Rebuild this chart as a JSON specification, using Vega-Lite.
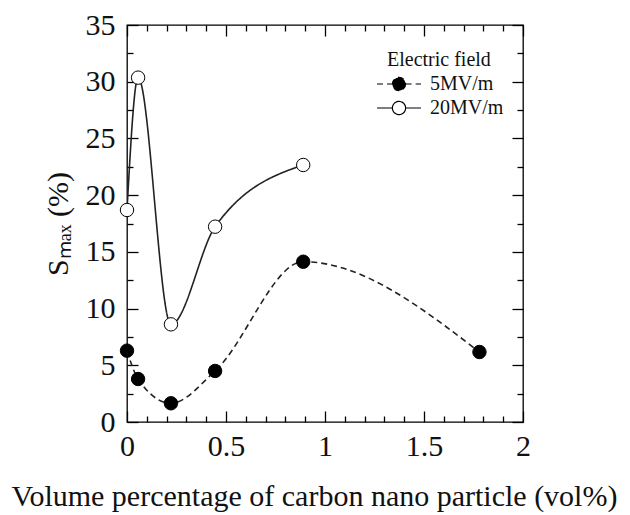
{
  "$schema": "https://vega.github.io/schema/vega-lite/v6.json",
  "width": 396,
  "height": 397,
  "autosize": {"type": "none"},
  "padding": {"left": 127, "top": 25, "right": 107, "bottom": 93},
  "background": "white",
  "config": {
    "font": "Liberation Serif",
    "view": {"stroke": "black", "strokeWidth": 1.3},
    "axis": {
      "domain": false,
      "grid": false,
      "tickColor": "black",
      "tickWidth": 1.3,
      "labelFont": "Liberation Serif",
      "labelFontSize": 30,
      "labelColor": "#111",
      "labelFlush": false,
      "titleFont": "Liberation Serif",
      "titleFontSize": 30,
      "titleFontWeight": "normal",
      "titleColor": "#111"
    },
    "legend": {"labelFont": "Liberation Serif", "titleFont": "Liberation Serif"}
  },
  "data": {
    "values": [
      {"vol": 0, "S": 6.29, "field": "5MV/m"},
      {"vol": 0.056, "S": 3.79, "field": "5MV/m"},
      {"vol": 0.222, "S": 1.65, "field": "5MV/m"},
      {"vol": 0.445, "S": 4.5, "field": "5MV/m"},
      {"vol": 0.89, "S": 14.13, "field": "5MV/m"},
      {"vol": 1.78, "S": 6.17, "field": "5MV/m"},
      {"vol": 0, "S": 18.69, "field": "20MV/m"},
      {"vol": 0.056, "S": 30.36, "field": "20MV/m"},
      {"vol": 0.222, "S": 8.61, "field": "20MV/m"},
      {"vol": 0.445, "S": 17.22, "field": "20MV/m"},
      {"vol": 0.89, "S": 22.66, "field": "20MV/m"}
    ]
  },
  "resolve": {"axis": {"x": "independent", "y": "independent"}},
  "layer": [
    {
      "mark": {"type": "line", "interpolate": "monotone", "strokeWidth": 1.6, "color": "#222", "clip": true},
      "encoding": {
        "x": {
          "field": "vol", "type": "quantitative",
          "scale": {"domain": [0, 2], "nice": false, "zero": false},
          "axis": {
            "orient": "bottom",
            "title": "Volume percentage of carbon nano particle (vol%)",
            "titleX": 187,
            "values": [0, 0.5, 1, 1.5, 2],
            "labelExpr": "'' + datum.value",
            "ticks": false,
            "labelPadding": 9,
            "titlePadding": 20
          }
        },
        "y": {
          "field": "S", "type": "quantitative",
          "scale": {"domain": [0, 35], "nice": false},
          "axis": {
            "orient": "left",
            "title": "Sₘₐₓ (%)",
            "values": [0, 5, 10, 15, 20, 25, 30, 35],
            "labelExpr": "'' + datum.value",
            "ticks": false,
            "labelPadding": 12,
            "titlePadding": 12
          }
        },
        "strokeDash": {
          "field": "field", "type": "nominal",
          "scale": {"domain": ["5MV/m", "20MV/m"], "range": [[6, 4], [1, 0]]},
          "legend": {
            "title": "Electric field",
            "orient": "none",
            "legendX": 260,
            "legendY": 25,
            "titleFont": "Liberation Serif",
            "titleFontSize": 20,
            "titleFontWeight": "normal",
            "titleColor": "#111",
            "titlePadding": 2,
            "labelFont": "Liberation Serif",
            "labelFontSize": 20,
            "labelColor": "#111",
            "symbolType": "M-2,0H-0.6M0.6,0H2M0.6,0A0.6,0.6,0,1,1,-0.6,0A0.6,0.6,0,1,1,0.6,0Z",
            "symbolSize": 484,
            "symbolStrokeColor": "black",
            "symbolStrokeWidth": 1.2,
            "labelOffset": 19,
            "rowPadding": 2
          }
        }
      }
    },
    {
      "mark": {"type": "point", "filled": true, "size": 180, "stroke": "black", "strokeWidth": 1, "opacity": 1},
      "encoding": {
        "x": {
          "field": "vol", "type": "quantitative",
          "axis": {
            "orient": "top", "title": null, "labels": false,
            "values": [0, 0.1, 0.2, 0.3, 0.4, 0.5, 0.6, 0.7, 0.8, 0.9, 1, 1.1, 1.2, 1.3, 1.4, 1.5, 1.6, 1.7, 1.8, 1.9, 2],
            "tickSize": {"condition": {"test": "abs(datum.value*2 - round(datum.value*2)) < 0.001", "value": -11}, "value": -6}
          }
        },
        "y": {
          "field": "S", "type": "quantitative",
          "axis": {
            "orient": "right", "title": null, "labels": false,
            "values": [0, 2.5, 5, 7.5, 10, 12.5, 15, 17.5, 20, 22.5, 25, 27.5, 30, 32.5, 35],
            "tickSize": {"condition": {"test": "abs(datum.value/5 - round(datum.value/5)) < 0.001", "value": -11}, "value": -6}
          }
        },
        "fill": {
          "field": "field", "type": "nominal",
          "scale": {"domain": ["5MV/m", "20MV/m"], "range": ["black", "white"]},
          "legend": {
            "title": "Electric field",
            "orient": "none",
            "legendX": 260,
            "legendY": 25,
            "titleFont": "Liberation Serif",
            "titleFontSize": 20,
            "titleFontWeight": "normal",
            "titleColor": "#111",
            "titlePadding": 2,
            "labelFont": "Liberation Serif",
            "labelFontSize": 20,
            "labelColor": "#111",
            "symbolType": "M-2,0H-0.6M0.6,0H2M0.6,0A0.6,0.6,0,1,1,-0.6,0A0.6,0.6,0,1,1,0.6,0Z",
            "symbolSize": 484,
            "symbolStrokeColor": "black",
            "symbolStrokeWidth": 1.2,
            "labelOffset": 19,
            "rowPadding": 2
          }
        }
      }
    },
    {
      "mark": {"type": "point", "opacity": 0},
      "encoding": {
        "x": {
          "field": "vol", "type": "quantitative",
          "axis": {
            "orient": "bottom", "title": null, "labels": false,
            "values": [0, 0.1, 0.2, 0.3, 0.4, 0.5, 0.6, 0.7, 0.8, 0.9, 1, 1.1, 1.2, 1.3, 1.4, 1.5, 1.6, 1.7, 1.8, 1.9, 2],
            "tickSize": {"condition": {"test": "abs(datum.value*2 - round(datum.value*2)) < 0.001", "value": -11}, "value": -6}
          }
        },
        "y": {
          "field": "S", "type": "quantitative",
          "axis": {
            "orient": "left", "title": null, "labels": false,
            "values": [0, 2.5, 5, 7.5, 10, 12.5, 15, 17.5, 20, 22.5, 25, 27.5, 30, 32.5, 35],
            "tickSize": {"condition": {"test": "abs(datum.value/5 - round(datum.value/5)) < 0.001", "value": -11}, "value": -6}
          }
        }
      }
    }
  ]
}
